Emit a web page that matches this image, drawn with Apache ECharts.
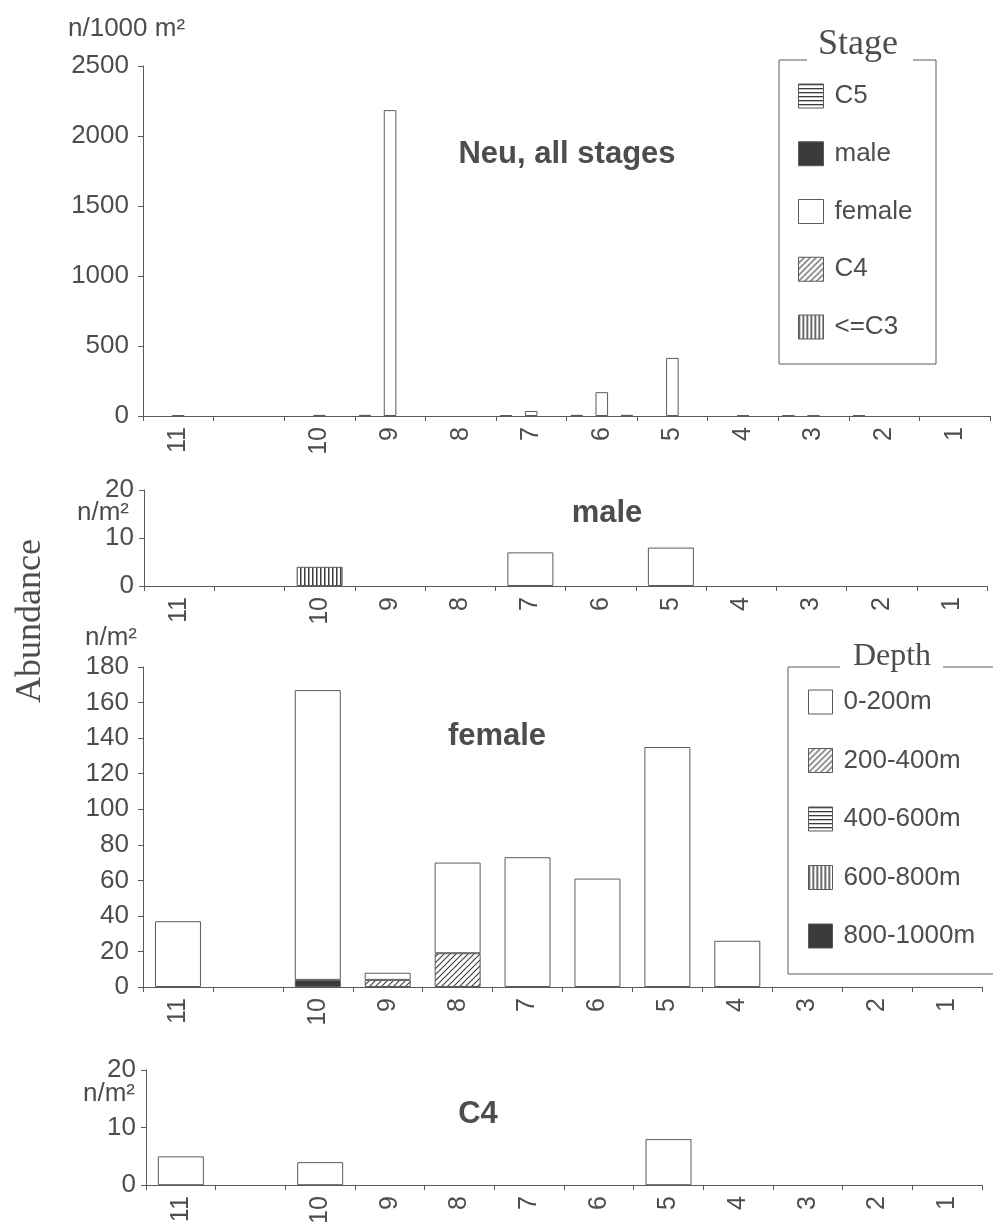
<!DOCTYPE html>
<html>
<head>
<meta charset="utf-8">
<script src="https://cdn.jsdelivr.net/npm/echarts@6/dist/echarts.min.js"></script>
<style>
  html, body { margin: 0; padding: 0; background: #ffffff; }
  #chart { width: 993px; height: 1227px; }
</style>
</head>
<body>
<div id="chart"></div>
<script>
// Stations along the transect (one slot has no station label)
const stations = ['11', '', '10', '9', '8', '7', '6', '5', '4', '3', '2', '1'];

// Panel 1: Neu, all stages (n/1000 m²), grouped by stage
const stageNames = ['C5', 'male', 'female', 'C4', '<=C3'];
const neuC5     = [0, 0, 0, 8, 0, 6, 8, 0, 0, 5, 5, 0];
const neuMale   = [0, 0, 0, 0, 0, 0, 0, 0, 0, 0, 0, 0];
const neuFemale = [6, 0, 8, 2185, 0, 36, 170, 415, 6, 4, 0, 0];
const neuC4     = [0, 0, 0, 0, 0, 0, 0, 0, 0, 0, 0, 0];
const neuC3     = [0, 0, 0, 0, 0, 0, 8, 0, 0, 0, 0, 0];

// Depth strata used in the stacked panels (n/m²)
const depthNames = ['0-200m', '200-400m', '400-600m', '600-800m', '800-1000m'];

// Panel 2: male
const male0_200    = [0, 0, 0, 0, 0, 7, 0, 8, 0, 0, 0, 0];
const male200_400  = [0, 0, 0, 0, 0, 0, 0, 0, 0, 0, 0, 0];
const male400_600  = [0, 0, 0, 0, 0, 0, 0, 0, 0, 0, 0, 0];
const male600_800  = [0, 0, 4, 0, 0, 0, 0, 0, 0, 0, 0, 0];
const male800_1000 = [0, 0, 0, 0, 0, 0, 0, 0, 0, 0, 0, 0];

// Panel 3: female
const fem0_200    = [37, 0, 163, 4, 51, 73, 61, 135, 26, 0, 0, 0];
const fem200_400  = [0, 0, 0, 4, 19, 0, 0, 0, 0, 0, 0, 0];
const fem400_600  = [0, 0, 0, 0, 0, 0, 0, 0, 0, 0, 0, 0];
const fem600_800  = [0, 0, 0, 0, 0, 0, 0, 0, 0, 0, 0, 0];
const fem800_1000 = [0, 0, 4, 0, 0, 0, 0, 0, 0, 0, 0, 0];

// Panel 4: C4
const c4_0_200    = [5, 0, 4, 0, 0, 0, 0, 8, 0, 0, 0, 0];
const c4_200_400  = [0, 0, 0, 0, 0, 0, 0, 0, 0, 0, 0, 0];
const c4_400_600  = [0, 0, 0, 0, 0, 0, 0, 0, 0, 0, 0, 0];
const c4_600_800  = [0, 0, 0, 0, 0, 0, 0, 0, 0, 0, 0, 0];
const c4_800_1000 = [0, 0, 0, 0, 0, 0, 0, 0, 0, 0, 0, 0];

// ---- styling helpers ----
const INK = '#4d4d4d';
const LINE = '#5a5a5a';
const SANS = '"Liberation Sans", Arial, sans-serif';
const SERIF = '"Liberation Serif", "Times New Roman", serif';

function makePattern(size, draw) {
  const c = document.createElement('canvas');
  c.width = size; c.height = size;
  const ctx = c.getContext('2d');
  ctx.fillStyle = '#ffffff';
  ctx.fillRect(0, 0, size, size);
  ctx.fillStyle = '#3c3c3c';
  ctx.strokeStyle = '#3c3c3c';
  draw(ctx, size);
  return { image: c, repeat: 'repeat' };
}
const fillHoriz = makePattern(4, (ctx) => ctx.fillRect(0, 0, 4, 1.3));
const fillVert  = makePattern(4, (ctx) => ctx.fillRect(0, 0, 1.5, 4));
const fillDiag  = makePattern(6, (ctx, s) => {
  ctx.lineWidth = 1.1;
  ctx.beginPath();
  ctx.moveTo(0, s); ctx.lineTo(s, 0);
  ctx.moveTo(-1, 1); ctx.lineTo(1, -1);
  ctx.moveTo(s - 1, s + 1); ctx.lineTo(s + 1, s - 1);
  ctx.stroke();
});
const fillWhite = '#ffffff';
const fillDark = '#3a3a3a';

const stageFill = { 'C5': fillHoriz, 'male': fillDark, 'female': fillWhite, 'C4': fillDiag, '<=C3': fillVert };
const depthFill = { '0-200m': fillWhite, '200-400m': fillDiag, '400-600m': fillHoriz, '600-800m': fillVert, '800-1000m': fillDark };

const noZero = (arr) => arr.map(v => (v === 0 ? '-' : v));

// ---- grids (one per panel) ----
const grids = [
  { left: 143, top: 66,   width: 847, height: 350 },
  { left: 144, top: 490,  width: 843, height: 96 },
  { left: 143, top: 667,  width: 839, height: 320 },
  { left: 146, top: 1070, width: 836, height: 121 }
];

const xAxes = grids.map((g, i) => ({
  type: 'category',
  gridIndex: i,
  data: stations,
  boundaryGap: true,
  axisLine: { show: true, lineStyle: { color: LINE, width: 1 } },
  axisTick: { show: true, alignWithLabel: false, interval: 0, length: 5, lineStyle: { color: LINE } },
  axisLabel: { interval: 0, rotate: 90, margin: 11, fontSize: 25, color: INK, fontFamily: SANS },
  splitLine: { show: false }
}));

const yRanges = [
  { max: 2500, interval: 500 },
  { max: 20, interval: 10 },
  { max: 180, interval: 20 },
  { max: 20, interval: 10 }
];
const yAxes = yRanges.map((r, i) => ({
  type: 'value',
  gridIndex: i,
  min: 0, max: r.max, interval: r.interval,
  axisLine: { show: true, lineStyle: { color: LINE, width: 1 } },
  axisTick: { show: true, length: 5, lineStyle: { color: LINE } },
  axisLabel: {
    fontSize: 26, color: INK, fontFamily: SANS,
    margin: i === 1 || i === 3 ? 10 : 14,
    formatter: (v) => String(v)
  },
  splitLine: { show: false }
}));

const barBorder = { borderColor: LINE, borderWidth: 1 };

// Panel 1: grouped bars by stage
const stageData = { 'C5': neuC5, 'male': neuMale, 'female': neuFemale, 'C4': neuC4, '<=C3': neuC3 };
const series = stageNames.map(name => ({
  name, type: 'bar', xAxisIndex: 0, yAxisIndex: 0,
  data: noZero(stageData[name]),
  barGap: '0%', barCategoryGap: '11%',
  itemStyle: Object.assign({ color: stageFill[name] }, barBorder),
  emphasis: { disabled: true }
}));

// Panels 2-4: stacked by depth (deepest stratum at the bottom)
const stackedPanels = [
  { idx: 1, stack: 'male',   d: { '0-200m': male0_200, '200-400m': male200_400, '400-600m': male400_600, '600-800m': male600_800, '800-1000m': male800_1000 } },
  { idx: 2, stack: 'female', d: { '0-200m': fem0_200,  '200-400m': fem200_400,  '400-600m': fem400_600,  '600-800m': fem600_800,  '800-1000m': fem800_1000 } },
  { idx: 3, stack: 'c4',     d: { '0-200m': c4_0_200,  '200-400m': c4_200_400,  '400-600m': c4_400_600,  '600-800m': c4_600_800,  '800-1000m': c4_800_1000 } }
];
stackedPanels.forEach(p => {
  depthNames.slice().reverse().forEach(name => {
    series.push({
      name, type: 'bar', xAxisIndex: p.idx, yAxisIndex: p.idx,
      stack: p.stack, data: noZero(p.d[name]),
      barWidth: 46,
      itemStyle: Object.assign({ color: depthFill[name] }, barBorder),
      emphasis: { disabled: true }
    });
  });
});

function label(text, x, y, font, extra) {
  return Object.assign({
    type: 'text', x, y, silent: true,
    style: { text, font, fill: INK, align: 'center', verticalAlign: 'middle', textAlign: 'center', textVerticalAlign: 'middle' }
  }, extra || {});
}
function leftLabel(text, x, y, font) {
  return {
    type: 'text', x, y, silent: true,
    style: { text, font, fill: INK, align: 'left', verticalAlign: 'middle', textAlign: 'left', textVerticalAlign: 'middle' }
  };
}
function frame(points) {
  return { type: 'polyline', silent: true, shape: { points }, style: { stroke: LINE, lineWidth: 1, fill: null } };
}

const graphics = [
  // units
  leftLabel('n/1000 m²', 68, 29, '26px ' + SANS),
  leftLabel('n/m²', 77, 513, '26px ' + SANS),
  leftLabel('n/m²', 85, 638, '26px ' + SANS),
  leftLabel('n/m²', 83, 1094, '26px ' + SANS),
  // panel titles
  label('Neu, all stages', 567, 154, 'bold 31px ' + SANS),
  label('male', 607, 513, 'bold 31px ' + SANS),
  label('female', 497, 736, 'bold 31px ' + SANS),
  label('C4', 478, 1114, 'bold 31px ' + SANS),
  // shared y title
  label('Abundance', 31, 621, '36px ' + SERIF, { rotation: Math.PI / 2 }),
  // legend frames with titles set into the top edge
  frame([[807, 60], [779, 60], [779, 364], [936, 364], [936, 60], [913, 60]]),
  label('Stage', 858, 45, '36px ' + SERIF),
  frame([[840, 667], [788, 667], [788, 974], [1000, 974]]),
  frame([[943, 667], [1000, 667]]),
  label('Depth', 892, 657, '32px ' + SERIF)
];

const legendText = { fontSize: 26, color: INK, fontFamily: SANS, padding: [0, 0, 0, 6] };

const option = {
  backgroundColor: '#ffffff',
  animation: false,
  grid: grids,
  xAxis: xAxes,
  yAxis: yAxes,
  legend: [
    {
      data: stageNames, orient: 'vertical', left: 793, top: 78,
      icon: 'rect', itemWidth: 25, itemHeight: 24, itemGap: 31.75,
      selectedMode: false, textStyle: legendText,
      itemStyle: { borderColor: LINE, borderWidth: 1 }
    },
    {
      data: depthNames, orient: 'vertical', left: 803, top: 684,
      icon: 'rect', itemWidth: 24, itemHeight: 24, itemGap: 32.5,
      selectedMode: false, textStyle: legendText,
      itemStyle: { borderColor: LINE, borderWidth: 1 }
    }
  ],
  series,
  graphic: graphics
};

const chart = echarts.init(document.getElementById('chart'), null, { renderer: 'canvas' });
chart.setOption(option);
</script>
</body>
</html>
